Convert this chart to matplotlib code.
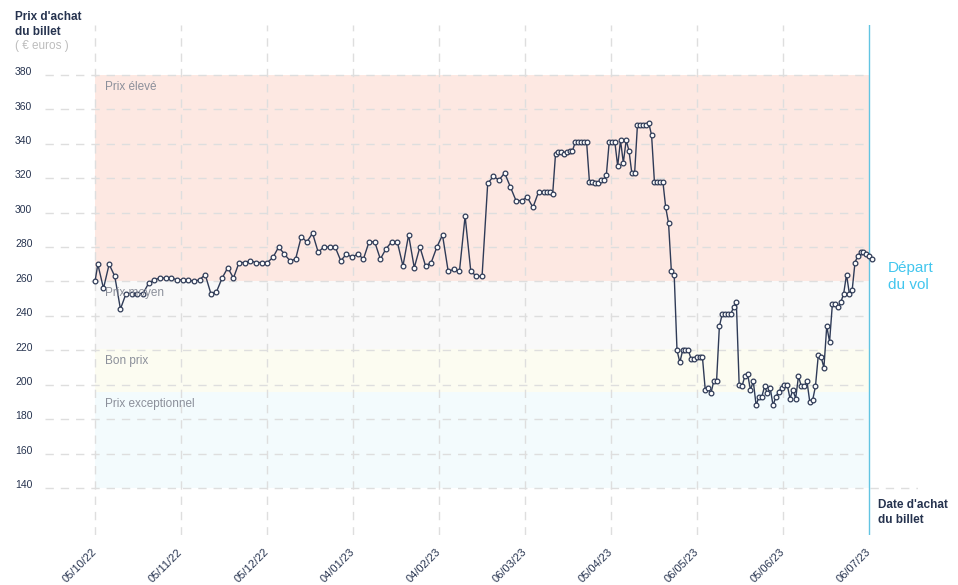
import matplotlib
matplotlib.use("Agg")
import matplotlib.pyplot as plt
import matplotlib.dates as mdates
import matplotlib.transforms as mtransforms
import numpy as np
import pandas as pd

plt.rcParams["font.family"] = ["Liberation Sans", "DejaVu Sans"]

# -------- data --------
start_date = pd.Timestamp("2022-10-05")
depart_day = 274  # 06/07/23

days = [
    0, 1, 3, 5, 7, 9, 11, 13, 15, 17, 19, 21, 23, 25, 27, 29, 31, 33, 35, 37,
    39, 41, 43, 45, 47, 49, 51, 53, 55, 57, 59, 61, 63, 65, 67, 69, 71, 73, 75, 77,
    79, 81, 83, 85, 87, 89, 91, 93, 95, 97, 99, 101, 103, 105, 107, 109, 111, 113, 115, 117,
    119, 121, 123, 125, 127, 129, 131, 133, 135, 137, 139, 141, 143, 145, 147, 149, 151, 153, 155, 157,
    159, 160, 161, 162, 163, 164, 165, 166, 167, 168, 169, 170, 171, 172, 173, 174, 175, 176, 177, 178,
    179, 180, 181, 182, 183, 184, 185, 186, 187, 188, 189, 190, 191, 192, 193, 194, 195, 196, 197, 198,
    199, 200, 201, 202, 203, 204, 205, 206, 207, 208, 209, 210, 211, 212, 213, 214, 215, 216, 217, 218,
    219, 220, 221, 222, 223, 224, 225, 226, 227, 228, 229, 230, 231, 232, 233, 234, 235, 236, 237, 238,
    239, 240, 241, 242, 243, 244, 245, 246, 247, 248, 249, 250, 251, 252, 253, 254, 255, 256, 257, 258,
    259, 260, 261, 262, 263, 264, 265, 266, 267, 268, 269, 270, 271, 272, 273, 274, 275,
]
prices = [
    260, 270, 256, 270, 263, 244, 253, 253, 253, 253, 259, 261, 262, 262, 262, 261, 261, 261, 260, 261,
    264, 253, 254, 262, 268, 262, 271, 271, 272, 271, 271, 271, 274, 280, 276, 272, 273, 286, 283, 288,
    277, 280, 280, 280, 272, 276, 274, 276, 273, 283, 283, 273, 279, 283, 283, 269, 287, 268, 280, 269,
    271, 280, 287, 266, 267, 266, 298, 266, 263, 263, 317, 321, 319, 323, 315, 307, 307, 309, 303, 312,
    312, 312, 312, 311, 334, 335, 335, 334, 335, 336, 336, 341, 341, 341, 341, 341, 318, 318, 317, 317,
    319, 319, 322, 341, 341, 341, 327, 342, 329, 342, 336, 323, 323, 351, 351, 351, 351, 352, 345, 318,
    318, 318, 318, 303, 294, 266, 264, 220, 213, 220, 220, 220, 215, 215, 216, 216, 216, 197, 198, 195,
    202, 202, 234, 241, 241, 241, 241, 245, 248, 200, 199, 205, 206, 197, 202, 188, 193, 193, 199, 195,
    198, 188, 193, 196, 198, 200, 200, 192, 197, 192, 205, 199, 199, 202, 190, 191, 199, 217, 216, 210,
    234, 225, 247, 247, 245, 248, 253, 264, 253, 255, 271, 275, 277, 277, 276, 275, 273,
]

tick_labels = ["05/10/22", "05/11/22", "05/12/22", "04/01/23", "04/02/23",
               "06/03/23", "05/04/23", "06/05/23", "05/06/23", "06/07/23"]
y_ticks = [140, 160, 180, 200, 220, 240, 260, 280, 300, 320, 340, 360, 380]

band_names = ["Prix élevé", "Prix moyen", "Bon prix", "Prix exceptionnel"]
band_tops = [380, 260, 221, 196]
band_bottoms = [260, 221, 196, 140]
band_colors = ["#fde8e2", "#f9f9f9", "#fcfcf1", "#f3fbfd"]

NAVY = "#26334f"
GRID = "#dedede"


def main():
    dates = start_date + pd.to_timedelta(days, unit="D")
    x0 = mdates.date2num(start_date)
    x_dep = x0 + depart_day

    fig = plt.figure(figsize=(9.58, 5.85), dpi=100)
    ax = fig.add_axes([45 / 958, 50 / 585, 873 / 958, 510 / 585])
    ax.set_xlim(x0 - 17.7, x0 + 291.3)
    ax.set_ylim(112.7, 409)
    for s in ax.spines.values():
        s.set_visible(False)

    # -------- price bands --------
    for name, top, bot, col in zip(band_names, band_tops, band_bottoms, band_colors):
        ax.fill_between([x0, x_dep], bot, top, color=col, lw=0, zorder=0)
        ax.annotate(name, xy=(x0, top), xytext=(10, -6), textcoords="offset pixels",
                    ha="left", va="top", fontsize=8.5, color="#8b8f9a", zorder=4)

    # -------- grid --------
    xmin = ax.get_xlim()[0]
    dash = (0, (6, 5))
    ax.hlines(y_ticks[1:], xmin, x_dep, colors=GRID, lw=1, linestyles=dash, zorder=1)
    ax.hlines(y_ticks[0], xmin, ax.get_xlim()[1], colors=GRID, lw=1, linestyles=dash, zorder=1)

    tick_pos = x0 + np.linspace(0, depart_day, len(tick_labels))
    for tp in tick_pos[:-1]:
        ax.axvline(tp, color=GRID, lw=1, ls=dash, zorder=1)
    ax.axvline(x_dep, color="#62c4e2", lw=1, zorder=2)

    # -------- price line --------
    ax.plot(dates, prices, color="#2f3b57", lw=1, marker="o", ms=3.4,
            mfc="white", mec="#2f3b57", mew=0.9, zorder=3)

    # -------- ticks --------
    ax.set_xticks(tick_pos)
    ax.set_xticklabels(tick_labels, rotation=45, ha="right", va="center",
                       rotation_mode="anchor", fontsize=8, color=NAVY)
    ax.tick_params(axis="x", length=0, pad=11)
    ax.set_yticks([])
    lab_tr = mtransforms.blended_transform_factory(fig.transFigure, ax.transData)
    for v in y_ticks:
        ax.text(15 / 958, v + 1.6, str(v), transform=lab_tr, ha="left", va="center",
                fontsize=7.5, color=NAVY)

    # -------- titles --------
    fig.text(15 / 958, 1 - 11 / 585, "Prix d'achat\ndu billet", ha="left", va="top",
             fontsize=8.5, fontweight="bold", color=NAVY, linespacing=1.35)
    fig.text(15 / 958, 1 - 46 / 585, "( € euros )", ha="left", va="center",
             fontsize=8.5, color="#bdbdbd")
    fig.text(878 / 958, 1 - 499 / 585, "Date d'achat\ndu billet", ha="left", va="top",
             fontsize=8.5, fontweight="bold", color=NAVY, linespacing=1.35)
    fig.text(888 / 958, 1 - 261 / 585, "Départ\ndu vol", ha="left", va="top",
             fontsize=11, color="#42c6ee", linespacing=1.25)

    fig.savefig("out.png", dpi=100)


if __name__ == "__main__":
    main()
